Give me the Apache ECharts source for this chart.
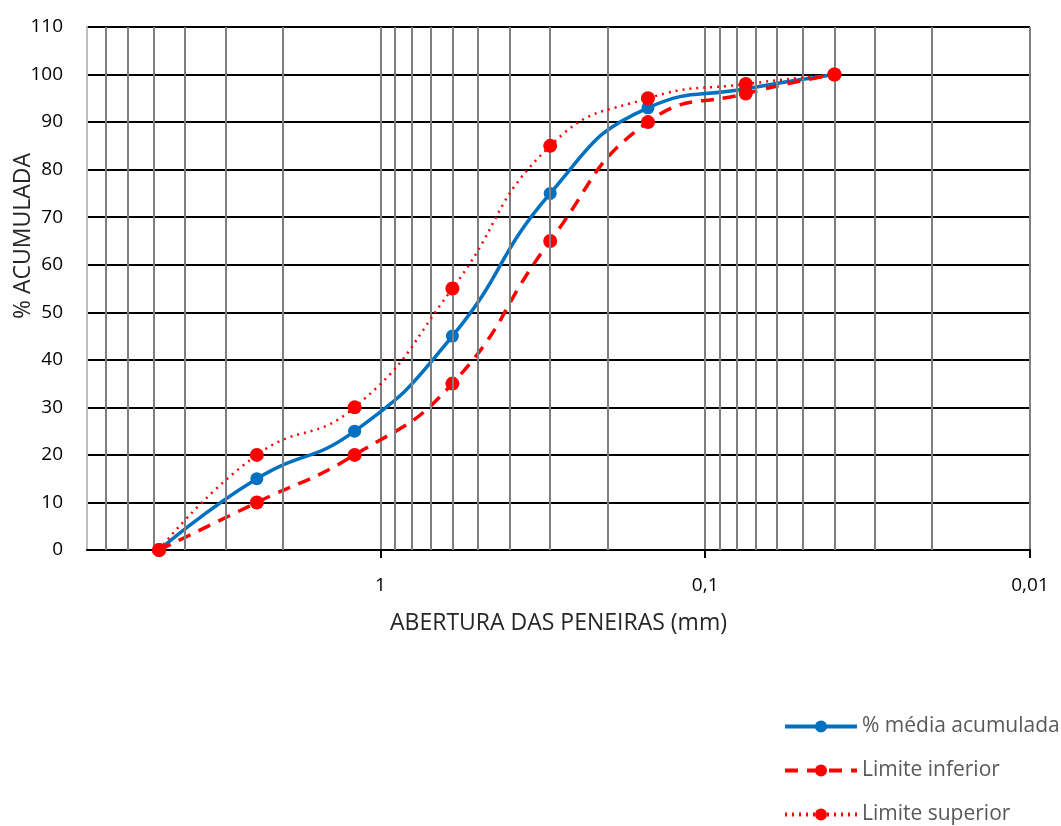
<!DOCTYPE html>
<html><head><meta charset="utf-8">
<script src="https://cdn.jsdelivr.net/npm/echarts@6/dist/echarts.min.js"></script>
<style>html,body{margin:0;padding:0;background:#fff}#c{width:1061px;height:826px}</style>
</head><body><div id="c"></div>
<script>
const sieves = [4.8, 2.4, 1.2, 0.6, 0.3, 0.15, 0.075, 0.04];
const media = [0, 15, 25, 45, 75, 93, 97, 100];
const inferior = [0, 10, 20, 35, 65, 90, 96, 100];
const superior = [0, 20, 30, 55, 85, 95, 98, 100];
const minorGrid = [2, 3, 4, 5, 6, 7, 0.2, 0.3, 0.4, 0.5, 0.6, 0.7, 0.8, 0.9, 0.02, 0.03, 0.04, 0.05, 0.06, 0.07, 0.08, 0.09];
const xMin = 0.01, xMax = 8;
const yMin = 0, yMax = 110, yStep = 10;
const names = ['% média acumulada', 'Limite inferior', 'Limite superior'];

const pair = arr => sieves.map((s, i) => [s, arr[i]]);
const font = '"Open Sans", "Noto Sans", sans-serif';

const chart = echarts.init(document.getElementById('c'), null, {renderer: 'canvas'});
chart.setOption({
  animation: false,
  backgroundColor: '#fff',
  grid: {left: 87, right: 31, top: 27, bottom: 276, containLabel: false},
  xAxis: {
    type: 'log', logBase: 10, min: xMin, max: xMax, inverse: true,
    name: 'ABERTURA DAS PENEIRAS (mm)', nameLocation: 'middle', nameGap: 62,
    nameTextStyle: {fontFamily: font, fontSize: 23, color: '#262626'},
    axisLine: {show: true, lineStyle: {color: '#000', width: 2}},
    axisTick: {show: true, length: 8, lineStyle: {color: '#000', width: 2}},
    axisLabel: {
      fontFamily: font, fontSize: 19, color: '#000', margin: 26, showMaxLabel: false,
      formatter: v => {
        const e = Math.log10(v);
        if (Math.abs(e - Math.round(e)) > 1e-6) return '';
        const r = Math.pow(10, Math.round(e));
        return String(r).replace('.', ',');
      }
    },
    splitLine: {show: true, lineStyle: {color: '#7f7f7f', width: 2}},
    minorTick: {show: false}, minorSplitLine: {show: false}
  },
  yAxis: {
    type: 'value', min: yMin, max: yMax, interval: yStep,
    axisLine: {show: true, lineStyle: {color: '#bfbfbf', width: 2}},
    axisTick: {show: false},
    axisLabel: {fontFamily: font, fontSize: 19, color: '#000', margin: 24},
    splitLine: {show: true, lineStyle: {color: '#000', width: 2}}
  },
  graphic: [{
    type: 'text', x: 23, y: 236, rotation: Math.PI / 2,
    style: {text: '% ACUMULADA', font: '23px ' + font, fill: '#262626', align: 'center', verticalAlign: 'middle'}
  }],
  legend: {
    orient: 'vertical', left: 778, top: 711, height: 140, itemWidth: 72, itemHeight: 15, itemGap: 23,
    data: names,
    lineStyle: {width: 4},
    textStyle: {fontFamily: font, fontSize: 21, color: '#595959', padding: [0, 0, 0, 0]}
  },
  series: [
    {
      type: 'line', name: 'grid', data: [], silent: true, z: 1,
      markLine: {
        silent: true, symbol: ['none', 'none'], animation: false,
        label: {show: false},
        lineStyle: {color: '#7f7f7f', width: 2, type: 'solid'},
        emphasis: {disabled: true},
        data: minorGrid.map(v => ({xAxis: v}))
      }
    },
    {
      type: 'line', name: names[0], data: pair(media), smooth: 0.5,
      symbol: 'circle', symbolSize: 13, z: 3,
      itemStyle: {color: '#0070C0'},
      lineStyle: {color: '#0070C0', width: 3.5}
    },
    {
      type: 'line', name: names[1], data: pair(inferior), smooth: 0.5,
      symbol: 'circle', symbolSize: 14, z: 4,
      itemStyle: {color: '#FF0000'},
      lineStyle: {color: '#FF0000', width: 3.5, type: [13, 9]}
    },
    {
      type: 'line', name: names[2], data: pair(superior), smooth: 0.5,
      symbol: 'circle', symbolSize: 14, z: 5,
      itemStyle: {color: '#FF0000'},
      lineStyle: {color: '#FF0000', width: 2.5, type: [2, 5]}
    }
  ]
});
</script></body></html>
